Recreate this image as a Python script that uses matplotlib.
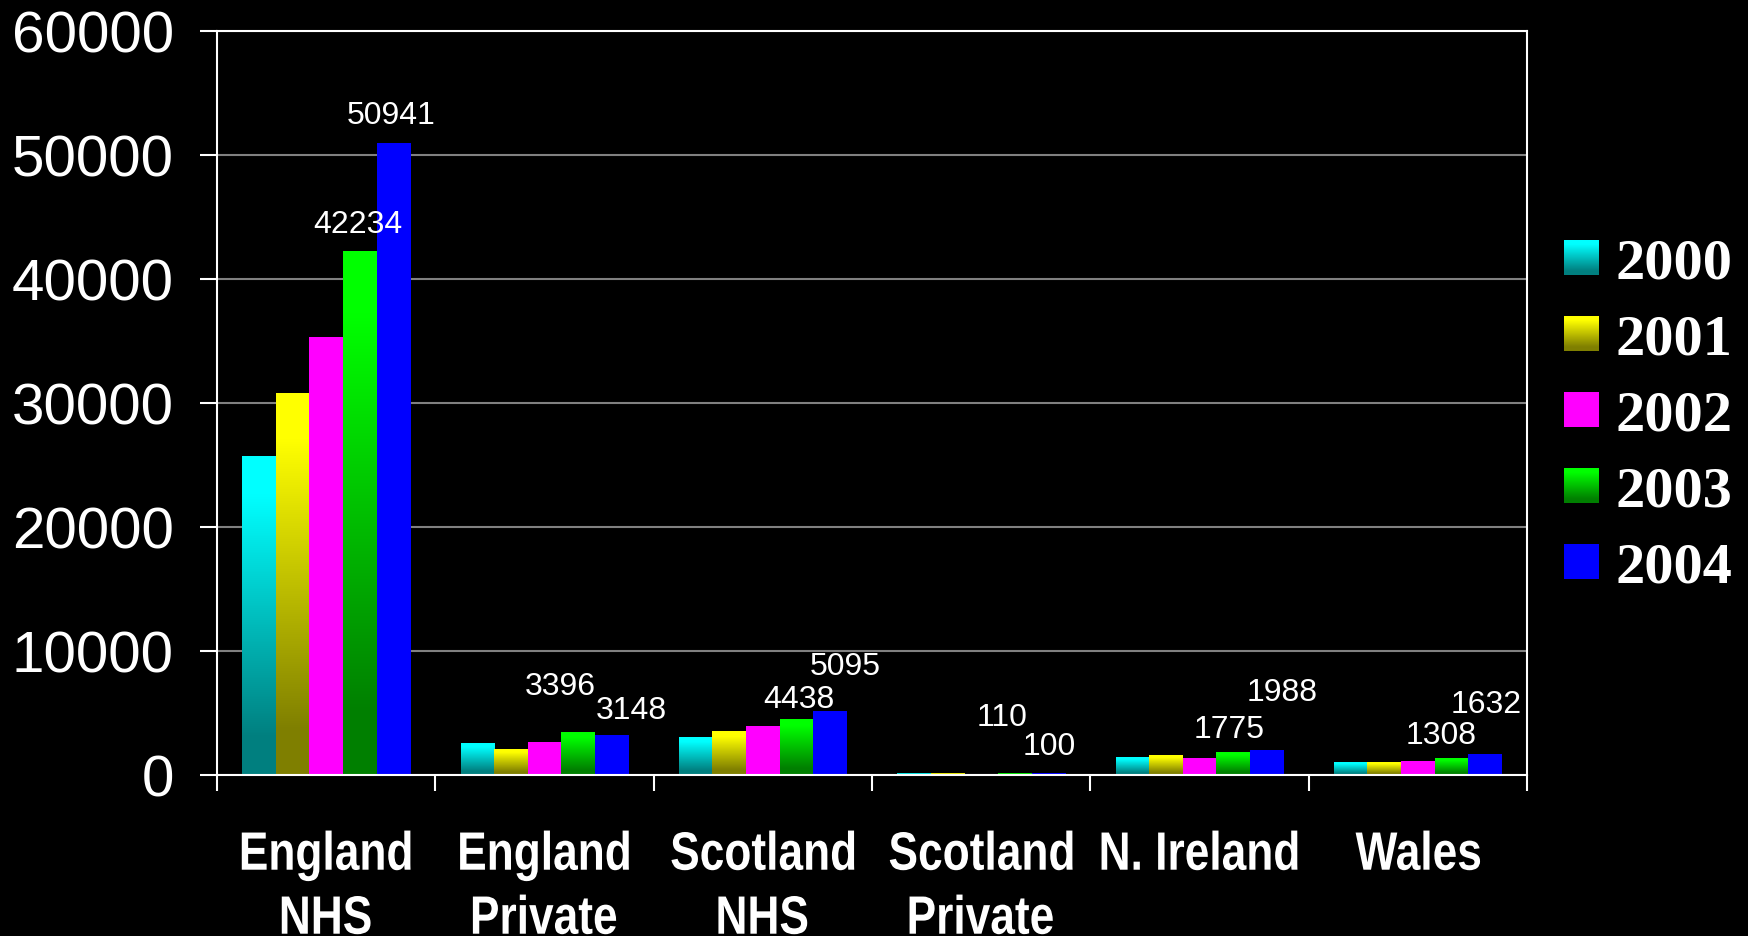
import numpy as np
import matplotlib
matplotlib.use("Agg")
import matplotlib.pyplot as plt
from matplotlib.textpath import TextPath
from matplotlib.patches import PathPatch
from matplotlib.font_manager import FontProperties, findfont
from matplotlib.transforms import Affine2D

# ---------------- data ----------------
categories = ["England\nNHS", "England\nPrivate", "Scotland\nNHS", "Scotland\nPrivate", "N. Ireland", "Wales"]
years = ["2000", "2001", "2002", "2003", "2004"]
v2000 = [25650, 2580, 3060, 150, 1450, 970]
v2001 = [30800, 2090, 3540, 150, 1610, 970]
v2002 = [35250, 2660, 3940, 80, 1370, 1050]
v2003 = [42234, 3396, 4438, 110, 1775, 1308]
v2004 = [50941, 3148, 5095, 100, 1988, 1632]
series = [v2000, v2001, v2002, v2003, v2004]
labelled_years = [3, 4]  # only 2003 and 2004 carry value labels
yticks = [0, 10000, 20000, 30000, 40000, 50000, 60000]

# ---------------- style ----------------
bright = [(0, 1, 1), (1, 1, 0), (1, 0, 1), (0, 1, 0), (0, 0, 1)]
dark = [(0, 0.5, 0.5), (0.5, 0.5, 0), (1, 0, 1), (0, 0.5, 0), (0, 0, 1)]
# label offsets in pixels (dx, gap above bar top) for 2003 / 2004 labels
lab_off = {
    3: [(-2, 19), (-18, 39), (2, 13), (-13, 49), (-4, 16), (-10, 16)],
    4: [(-2, 20), (20, 18), (15, 38), (1, 20), (15, 50), (1, 43)],
}

W, H = 1748, 937
DPI = 100
fig = plt.figure(figsize=(W / DPI, H / DPI), dpi=DPI, facecolor="black")
ax = fig.add_axes([217 / W, 1 - 776 / H, (1527 - 217) / W, (776 - 32) / H])
ax.set_facecolor("black")

ncat = len(categories)
nser = len(series)
bw = 1 / 6.5
x = np.arange(ncat) + 0.5


def gradient(b, d, n=256):
    t = np.linspace(0, 1, n)
    f = np.clip((t - 0.12) / 0.76, 0, 1)
    arr = np.zeros((n, 1, 3))
    for k in range(3):
        arr[:, 0, k] = b[k] * (1 - f) + d[k] * f
    return arr


for j, vals in enumerate(series):
    xs = x + (j - (nser - 1) / 2) * bw
    rects = ax.bar(xs, vals, width=bw, color=bright[j], edgecolor="none", zorder=3)
    grad = gradient(bright[j], dark[j])
    for r in rects:
        x0, w, h = r.get_x(), r.get_width(), r.get_height()
        ax.imshow(grad, extent=[x0, x0 + w, 0, h], aspect="auto", origin="upper",
                  zorder=4, interpolation="bilinear")
    if j in labelled_years:
        for i, r in enumerate(rects):
            dx, gap = lab_off[j][i]
            ax.annotate(f"{vals[i]}", (r.get_x() + r.get_width() / 2, r.get_height()),
                        xytext=(dx * 0.72, gap * 0.72), textcoords="offset points",
                        ha="center", va="baseline", color="white", fontsize=23,
                        family="Liberation Sans", zorder=6, annotation_clip=False)

ax.set_xlim(0, ncat)
ax.set_ylim(0, 60000)
ax.set_xticks(np.arange(ncat + 1))
ax.set_xticklabels([])
ax.set_yticks(yticks)
ax.set_yticklabels([str(v) for v in yticks], fontsize=42, family="Liberation Sans", color="white")
ax.tick_params(axis="y", direction="out", length=12.2, width=1.5, color="white", pad=19)
ax.tick_params(axis="x", direction="out", length=11.5, width=1.5, color="white")
ax.yaxis.grid(True, color="#808080", linewidth=1.5, zorder=1)
ax.set_axisbelow(True)
for s in ax.spines.values():
    s.set_color("white")
    s.set_linewidth(1.5)
    s.set_zorder(5)

# ---------------- overlay in pixel coordinates ----------------
lax = fig.add_axes([0, 0, 1, 1], zorder=10)
lax.set_xlim(0, W)
lax.set_ylim(0, H)
lax.axis("off")
lax.patch.set_alpha(0)

# category labels (condensed bold)
try:
    fpath = findfont(FontProperties(family="Liberation Sans Narrow", weight="bold"), fallback_to_default=False)
    cat_fp = FontProperties(fname=fpath)
    sx = 1.0
except Exception:
    cat_fp = FontProperties(family="Liberation Sans", weight="bold")
    sx = 0.82

fig.canvas.draw()
for i, cat in enumerate(categories):
    cx = ax.transData.transform((x[i], 0))[0]
    for li, line in enumerate(cat.split("\n")):
        tp = TextPath((0, 0), line, size=54, prop=cat_fp)
        ext = tp.get_extents()
        wtxt = ext.width * sx
        base = H - (870.7 + 64 * li)
        tr = Affine2D().translate(-ext.x0, 0).scale(sx, 1).translate(cx - wtxt / 2, base)
        lax.add_patch(PathPatch(tr.transform_path(tp), facecolor="white", edgecolor="none"))

# legend
leg_y0 = 258.5
leg_dy = 75.9
for j, yr in enumerate(years):
    cy = H - (leg_y0 + j * leg_dy)
    lax.imshow(gradient(bright[j], dark[j]), extent=[1564, 1599, cy - 17.5, cy + 17.5],
               aspect="auto", origin="upper", interpolation="bilinear")
    lax.text(1616, cy - 20, yr, color="white", fontsize=42, fontweight="bold",
             family="Liberation Serif", ha="left", va="baseline")
lax.set_xlim(0, W)
lax.set_ylim(0, H)

fig.savefig("out.png", dpi=DPI, facecolor="black")
